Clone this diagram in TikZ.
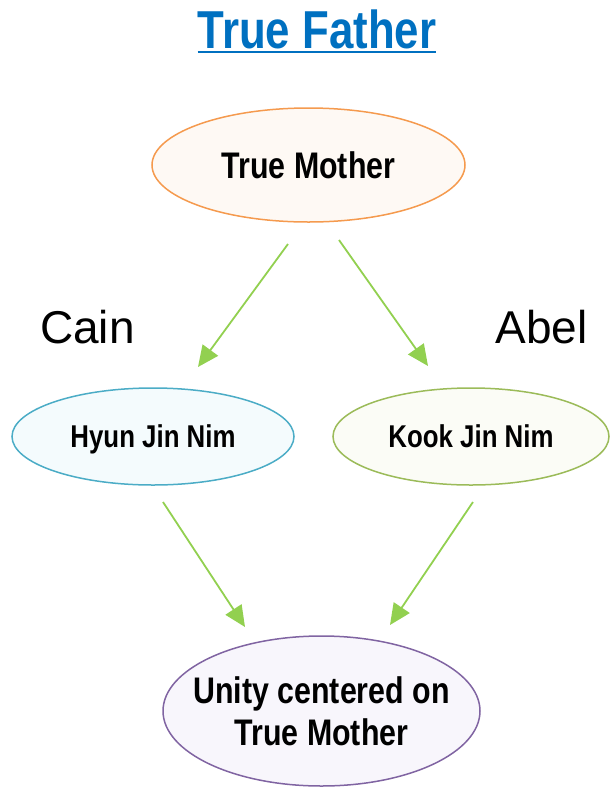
\documentclass[tikz,border=0pt]{standalone}
\usepackage{fontspec}
\setmainfont{Liberation Sans}
\newfontfamily\narrowfont[FakeStretch=0.82]{Liberation Sans Bold}
\usetikzlibrary{shapes.geometric,arrows.meta,calc}
\definecolor{titleblue}{HTML}{0070C0}
\definecolor{tmline}{HTML}{F59A4E}
\definecolor{tmfill}{HTML}{FEF9F4}
\definecolor{cainline}{HTML}{4BACC6}
\definecolor{cainfill}{HTML}{F4FBFD}
\definecolor{abelline}{HTML}{9BBB59}
\definecolor{abelfill}{HTML}{FBFCF6}
\definecolor{unityline}{HTML}{8064A2}
\definecolor{unityfill}{HTML}{F8F6FC}
\definecolor{arrowgreen}{HTML}{92D050}
\tikzset{
  oval/.style={ellipse, draw, line width=1.5pt, inner sep=0pt, align=center},
  flow/.style={draw=arrowgreen, line width=1.8pt, -{Triangle[length=21pt,width=19pt]}},
  sidelabel/.style={inner sep=0pt, font=\fontsize{46}{52}\selectfont}
}
\begin{document}
\begin{tikzpicture}[x=1pt,y=-1pt]
\useasboundingbox (0,0) rectangle (610,788);
% title
\node[inner sep=0pt, anchor=base, text=titleblue, font=\narrowfont\fontsize{53.4}{60}\selectfont] (title) at (317,48) {True Father};
\draw[titleblue, line width=2pt] ([yshift=-4pt]title.base west) -- ([yshift=-4pt]title.base east);
% ellipses
\node[oval, draw=tmline, fill=tmfill, minimum width=313pt, minimum height=114pt,
      font=\narrowfont\fontsize{37}{44}\selectfont, text height=26.5pt, text depth=0pt] (tm) at (308.5,165) {True Mother};
\node[oval, draw=cainline, fill=cainfill, minimum width=282pt, minimum height=97pt,
      font=\narrowfont\fontsize{31.5}{38}\selectfont, text height=22.6pt, text depth=0pt] (hyun) at (153,436.5) {Hyun Jin Nim};
\node[oval, draw=abelline, fill=abelfill, minimum width=276pt, minimum height=97pt,
      font=\narrowfont\fontsize{31.5}{38}\selectfont, text height=22.6pt, text depth=0pt] (kook) at (471,436.5) {Kook Jin Nim};
\node[oval, draw=unityline, fill=unityfill, minimum width=317pt, minimum height=150pt, inner xsep=-40pt,
      font=\narrowfont\fontsize{37}{42}\selectfont] (unity) at (321.5,711) {Unity centered on\\True Mother};
% side labels
\node[sidelabel, anchor=base west] (cain) at (40,343) {Cain};
\node[sidelabel, anchor=base east] (abel) at (588,343) {Abel};
% arrows
\coordinate (a1s) at (288,244); \coordinate (a1e) at (198,367);
\coordinate (a2s) at (339,240); \coordinate (a2e) at (428,366);
\coordinate (a3s) at (163,502); \coordinate (a3e) at (245,627);
\coordinate (a4s) at (473,502); \coordinate (a4e) at (390,625);
\draw[flow] (a1s) -- (a1e);
\draw[flow] (a2s) -- (a2e);
\draw[flow] (a3s) -- (a3e);
\draw[flow] (a4s) -- (a4e);
\end{tikzpicture}
\end{document}
